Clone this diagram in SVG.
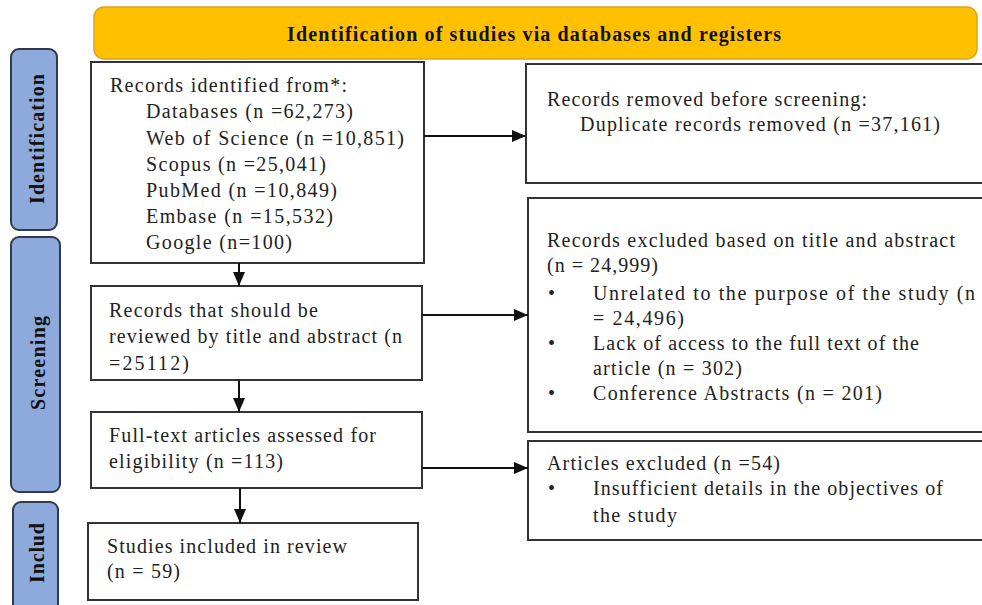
<svg xmlns="http://www.w3.org/2000/svg" width="982" height="605" viewBox="0 0 982 605">
<defs>
<style>
.box{fill:#fff;stroke:#333;stroke-width:2}
.side{fill:#8EA9DB;stroke:#2F3B4C;stroke-width:2}
.t{font-family:"Liberation Serif","Times New Roman",serif;font-size:20px;fill:#222}
.b{font-family:"Liberation Serif","Times New Roman",serif;font-size:20px;font-weight:bold;fill:#111}
.c{stroke:#111;stroke-width:2;fill:none}
</style>
<marker id="ah2" markerWidth="14" markerHeight="12" refX="14" refY="6" orient="auto" markerUnits="userSpaceOnUse" viewBox="0 0 14 12">
<path d="M0,0 L14,6 L0,12 z" fill="#111"/>
</marker>
</defs>
<rect width="982" height="605" fill="#fff"/>
<g id="header">
<rect x="94" y="7" width="883" height="52" rx="10" fill="#FFC000" stroke="#D9A520" stroke-width="1.5"/>
<text class="b" x="287" y="41" textLength="494">Identification of studies  via databases and registers</text>
</g>
<g id="phase-identification">
<rect class="side" x="11" y="49" width="46" height="181" rx="8"/>
<text class="b" transform="translate(44,204) rotate(-90)" textLength="130">Identification</text>
</g>
<g id="phase-screening">
<rect class="side" x="11" y="237" width="49" height="255" rx="8"/>
<text class="b" transform="translate(45,410) rotate(-90)" textLength="94">Screening</text>
</g>
<g id="phase-include">
<rect class="side" x="13" y="502" width="45" height="110" rx="8"/>
<text class="b" transform="translate(44,583) rotate(-90)" textLength="60">Includ</text>
</g>
<g id="records-identified">
<rect class="box" x="91" y="62" width="333" height="201"/>
<text class="t" x="110" y="92" textLength="237">Records identified from*:</text>
<text class="t" x="146" y="118" textLength="207">Databases (n =62,273)</text>
<text class="t" x="146" y="145" textLength="258">Web of Science (n =10,851)</text>
<text class="t" x="146" y="171" textLength="180">Scopus (n =25,041)</text>
<text class="t" x="146" y="197" textLength="191">PubMed (n =10,849)</text>
<text class="t" x="146" y="223" textLength="187">Embase (n =15,532)</text>
<text class="t" x="146" y="249" textLength="146">Google (n=100)</text>
</g>
<g id="records-removed">
<rect class="box" x="526" y="64" width="470" height="119"/>
<text class="t" x="547" y="106" textLength="320">Records removed before screening:</text>
<text class="t" x="580" y="131" textLength="360">Duplicate records removed (n =37,161)</text>
</g>
<g id="records-screened">
<rect class="box" x="91" y="286" width="331" height="94"/>
<text class="t" x="109" y="317" textLength="209">Records that should be</text>
<text class="t" x="109" y="343" textLength="293">reviewed by title and abstract (n</text>
<text class="t" x="109" y="370" textLength="80">=25112)</text>
</g>
<g id="records-excluded">
<rect class="box" x="528" y="198" width="470" height="234"/>
<text class="t" x="547" y="247" textLength="408">Records excluded based on title and abstract</text>
<text class="t" x="547" y="272" textLength="111">(n = 24,999)</text>
<text class="t" x="548" y="300">•</text>
<text class="t" x="593" y="300" textLength="382">Unrelated to the purpose of the study (n</text>
<text class="t" x="593" y="325" textLength="91">= 24,496)</text>
<text class="t" x="548" y="350">•</text>
<text class="t" x="593" y="350" textLength="326">Lack of access to the full text of the</text>
<text class="t" x="593" y="375" textLength="149">article (n = 302)</text>
<text class="t" x="548" y="400">•</text>
<text class="t" x="593" y="400" textLength="289">Conference Abstracts (n = 201)</text>
</g>
<g id="full-text">
<rect class="box" x="91" y="412" width="331" height="76"/>
<text class="t" x="109" y="442" textLength="267">Full-text articles assessed for</text>
<text class="t" x="109" y="468" textLength="174">eligibility  (n =113)</text>
</g>
<g id="articles-excluded">
<rect class="box" x="528" y="441" width="470" height="99"/>
<text class="t" x="547" y="470" textLength="233">Articles excluded (n =54)</text>
<text class="t" x="548" y="495">•</text>
<text class="t" x="593" y="495" textLength="350">Insufficient details in the objectives of</text>
<text class="t" x="593" y="522" textLength="84">the study</text>
</g>
<g id="included">
<rect class="box" x="88" y="523" width="330" height="77"/>
<text class="t" x="107" y="553" textLength="240">Studies included in review</text>
<text class="t" x="107" y="578" textLength="73">(n = 59)</text>
</g>
<g id="connectors">
<line class="c" x1="424" y1="136" x2="526" y2="136" marker-end="url(#ah2)"/>
<line class="c" x1="422" y1="315" x2="528" y2="315" marker-end="url(#ah2)"/>
<line class="c" x1="422" y1="468" x2="528" y2="468" marker-end="url(#ah2)"/>
<line class="c" x1="239" y1="263" x2="239" y2="286" marker-end="url(#ah2)"/>
<line class="c" x1="239" y1="380" x2="239" y2="412" marker-end="url(#ah2)"/>
<line class="c" x1="240" y1="488" x2="240" y2="523" marker-end="url(#ah2)"/>
</g>
</svg>
